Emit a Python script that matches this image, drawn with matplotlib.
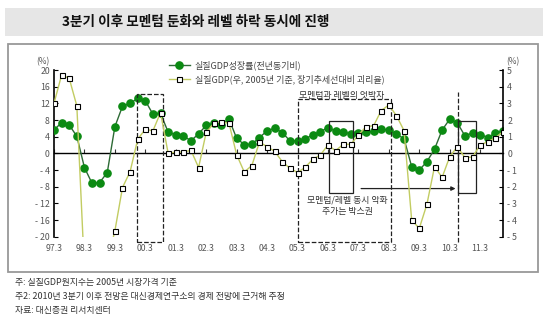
import matplotlib.pyplot as plt
import matplotlib.patches as patches
import numpy as np

plt.rcParams['font.family'] = ['Noto Sans CJK KR', 'DejaVu Sans']
plt.rcParams['axes.unicode_minus'] = False

# 분기 데이터: 97.3 ~ 12.2
gdp_growth = [5.6, 7.4, 6.8, 4.1, -3.4, -7.2, -7.0, -4.6, 6.4, 11.3,
              12.0, 13.2, 12.6, 9.4, 9.6, 5.1, 4.4, 4.2, 3.0, 4.7,
              6.7, 7.2, 6.9, 8.2, 3.6, 2.1, 2.2, 3.8, 5.4, 6.0,
              5.0, 3.0, 3.0, 3.5, 4.4, 5.2, 6.2, 5.3, 5.1, 4.7,
              5.0, 5.1, 5.3, 5.8, 5.6, 4.6, 3.5, -3.2, -4.0, -2.0,
              1.0, 5.6, 8.2, 7.3, 4.2, 4.9, 4.5, 3.8, 4.9, 5.3]
gdp_gap = [3.0, 4.7, 4.5, 2.85, -7.0, -8.5, -8.0, -6.5, -4.65, -2.05,
           -1.1, 0.85, 1.45, 1.35, 2.45, 0.0, 0.08, 0.08, 0.18, -0.85,
           1.26, 1.8, 1.9, 1.8, -0.08, -1.12, -0.73, 0.68, 0.4, 0.12,
           -0.5, -0.9, -1.15, -0.84, -0.36, -0.1, 0.5, 0.16, 0.54, 0.54,
           1.1, 1.6, 1.66, 2.57, 2.9, 2.26, 1.36, -4.0, -4.5, -3.06,
           -0.8, -1.44, -0.2, 0.4, -0.26, -0.22, 0.5, 0.7, 0.94, 1.3]
tick_labels = ["97.3", "98.3", "99.3", "00.3", "01.3", "02.3", "03.3", "04.3",
               "05.3", "06.3", "07.3", "08.3", "09.3", "10.3", "11.3"]
left_ticks = [20, 16, 12, 8, 4, 0, -4, -8, -12, -16, -20]
right_ticks = [5, 4, 3, 2, 1, 0, -1, -2, -3, -4, -5]

W, H = 550, 324


def fx(px):
    return px / W


def fy(py):
    return 1 - py / H


def fmt(v):
    return f"- {abs(v)}" if v < 0 else str(v)


fig = plt.figure(figsize=(W / 100, H / 100), dpi=100)

# 제목 바
fig.add_artist(patches.Rectangle((fx(5), fy(36)), fx(538), 28 / H, transform=fig.transFigure,
                                 fc='#e6e6e6', ec='none'))
fig.text(fx(62), fy(22), "3분기 이후 모멘텀 둔화와 레벨 하락 동시에 진행",
         fontsize=9.8, fontweight='bold', va='center', color='#111')
# 차트 테두리
fig.add_artist(patches.Rectangle((fx(8), fy(272)), fx(530), 228 / H, transform=fig.transFigure,
                                 fill=False, ec='#999999', lw=1.3))

ax = fig.add_axes([fx(54), fy(236.7), fx(503 - 54), (236.7 - 70) / H])
ax2 = ax.twinx()

x = np.arange(len(gdp_growth))
tick_pos = x[::4][:len(tick_labels)]

ax.plot(x, gdp_growth, color='#2d6a35', lw=1, marker='o', ms=5.2,
        mfc='#0b8a12', mec='#0b8a12', zorder=3)
ax2.plot(x, gdp_gap, color='#c2cc62', lw=1, marker='s', ms=3.6,
         mfc='white', mec='black', mew=0.8, zorder=3)

ax.set_xlim(0, len(x) - 1)
ax.set_ylim(-20, 20)
ax2.set_ylim(-5, 5)

# 0선 위에 x축, 라벨은 아래쪽
ax.spines['bottom'].set_position(('data', 0))
ax.spines['bottom'].set_linewidth(1)
ax.set_xticks(tick_pos)
ax.tick_params(axis='x', direction='in', length=3, labelbottom=False, color='#333')
sec = ax.secondary_xaxis('bottom')
sec.set_xticks(tick_pos, tick_labels)
sec.tick_params(length=0, pad=5, labelsize=6.3, labelcolor='#555')
sec.spines['bottom'].set_visible(False)

for s in ['top', 'right']:
    ax.spines[s].set_visible(False)
for s in ['top', 'left', 'bottom']:
    ax2.spines[s].set_visible(False)
ax.spines['left'].set_linewidth(1.2)
ax2.spines['right'].set_linewidth(1.2)

ax.set_yticks(left_ticks, [fmt(v) for v in left_ticks])
ax2.set_yticks(right_ticks, [fmt(v) for v in right_ticks])
ax.tick_params(axis='y', direction='in', length=3, labelsize=6.3, labelcolor='#555', pad=3)
ax2.tick_params(axis='y', direction='in', length=3, labelsize=6.3, labelcolor='#555', pad=3)

fig.text(fx(36), fy(62), "(%)", fontsize=6, color='#555', va='center')
fig.text(fx(506), fy(62), "(%)", fontsize=6, color='#555', va='center')

# 구간 표시
box_kw = dict(fill=False, ec='#222', lw=0.9, clip_on=False, zorder=4)
ax.add_patch(patches.Rectangle((10.87, -21.2), 14.28 - 10.87, 14.15 + 21.2, ls='--', **box_kw))
ax.add_patch(patches.Rectangle((32.02, -21.2), 44.25 - 32.02, 13.0 + 21.2, ls='--', **box_kw))
ax.plot([53.13, 53.13], [-21.2, 14.8], ls='--', color='#222', lw=0.9, clip_on=False, zorder=4)
ax.add_patch(patches.Rectangle((36.14, -9.45), 39.33 - 36.14, 7.8 + 9.45, **box_kw))
ax.add_patch(patches.Rectangle((53.13, -9.45), 55.45 - 53.13, 7.8 + 9.45, **box_kw))
ax.annotate("", xy=(53.13, -8.45), xytext=(39.99, -8.45),
            arrowprops=dict(arrowstyle='-|>', color='#222', lw=0.9, mutation_scale=6))

ax.text(32.2, 12.9, "모멘텀과 레벨의 엇박자", fontsize=6.4, color='#333', va='bottom', ha='left')
ax.text(38.6, -12.6, "모멘텀/레벨 동시 악화\n주가는 박스권", fontsize=6.4, color='#333',
        ha='center', va='center', linespacing=1.3)

# 범례
h1, = ax.plot([], [], color='#2d6a35', lw=1, marker='o', ms=5.2, mfc='#0b8a12', mec='#0b8a12')
h2, = ax.plot([], [], color='#c2cc62', lw=1, marker='s', ms=3.6, mfc='white', mec='black', mew=0.8)
fig.legend([h1, h2], ["실질GDP성장률(전년동기비)", "실질GDP(우, 2005년 기준, 장기추세선대비 괴리율)"],
           loc='upper left', bbox_to_anchor=(fx(164), fy(56)), frameon=False, fontsize=6.5,
           handlelength=2.4, labelspacing=0.5, borderpad=0, handletextpad=0.5,
           labelcolor='#444')

# 주석
notes = ["주: 실질GDP원지수는 2005년 시장가격 기준",
         "주2: 2010년 3분기 이후 전망은 대신경제연구소의 경제 전망에 근거해 추정",
         "자료: 대신증권 리서치센터"]
for i, t in enumerate(notes):
    fig.text(fx(15), fy(283 + 14 * i), t, fontsize=6.4, color='#333', va='center')

fig.savefig("out.png", dpi=100)
